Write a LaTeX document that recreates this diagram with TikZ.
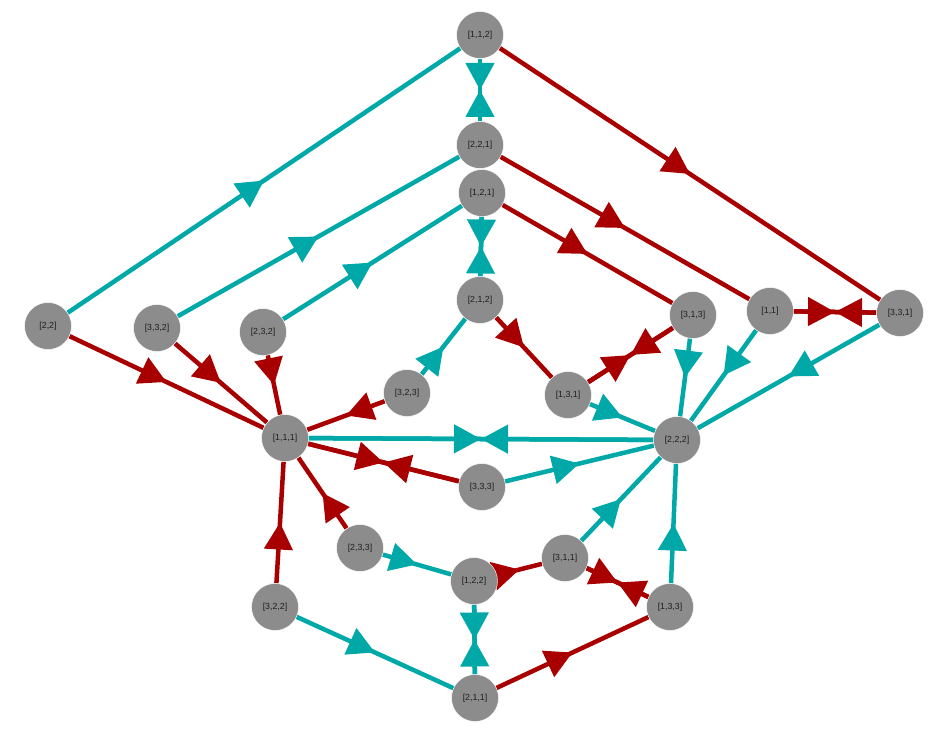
\documentclass[tikz,border=0pt]{standalone}
\usepackage{fontspec}
\setmainfont{Liberation Sans}
\usetikzlibrary{arrows.meta,decorations.markings,backgrounds}
\definecolor{tealc}{RGB}{0,168,168}
\definecolor{redc}{RGB}{168,0,0}
\definecolor{nodeg}{RGB}{140,140,140}
\definecolor{txtc}{RGB}{30,30,30}
\tikzset{
  vtx/.style={circle, fill=nodeg, draw=white, line width=0.4pt, minimum size=47pt, inner sep=0pt,
    font=\fontsize{8.8}{9}\selectfont, text=txtc},
  tedge/.style={draw=tealc, line width=4.5pt, postaction={decorate},
    decoration={markings, mark=at position 0.5 with {\arrow[color=tealc]{Triangle[length=27pt,width=28pt]}}}},
  redge/.style={draw=redc, line width=4.5pt, postaction={decorate},
    decoration={markings, mark=at position 0.5 with {\arrow[color=redc]{Triangle[length=27pt,width=28pt]}}}}
}
\begin{document}
\begin{tikzpicture}[x=1pt,y=-1pt]
\useasboundingbox (0,0) rectangle (949,735);
\node[vtx] (n112) at (480,35) {[1,1,2]};
\node[vtx] (n221) at (480,145) {[2,2,1]};
\node[vtx] (n121) at (482,193) {[1,2,1]};
\node[vtx] (n212) at (480,300) {[2,1,2]};
\node[vtx] (n22) at (48,326) {[2,2]};
\node[vtx] (n332) at (157,328) {[3,3,2]};
\node[vtx] (n232) at (263,332) {[2,3,2]};
\node[vtx] (n313) at (693,315) {[3,1,3]};
\node[vtx] (n11) at (770,311) {[1,1]};
\node[vtx] (n331) at (900,313) {[3,3,1]};
\node[vtx] (n323) at (407,393) {[3,2,3]};
\node[vtx] (n131) at (568,395) {[1,3,1]};
\node[vtx] (n111) at (285,438) {[1,1,1]};
\node[vtx] (n222) at (677,440) {[2,2,2]};
\node[vtx] (n333) at (482,487) {[3,3,3]};
\node[vtx] (n233) at (360,548) {[2,3,3]};
\node[vtx] (n311) at (565,558) {[3,1,1]};
\node[vtx] (n122) at (474,581) {[1,2,2]};
\node[vtx] (n322) at (275,607) {[3,2,2]};
\node[vtx] (n133) at (670,607) {[1,3,3]};
\node[vtx] (n211) at (475,698) {[2,1,1]};
\begin{scope}[on background layer]
% teal edges
\draw[tedge] (n22) -- (n112);
\draw[tedge] (n332) -- (n221);
\draw[tedge] (n232) -- (n121);
\draw[tedge] (n112) -- (n221);
\draw[tedge] (n221) -- (n112);
\draw[tedge] (n121) -- (n212);
\draw[tedge] (n212) -- (n121);
\draw[tedge] (n323) -- (n212);
\draw[tedge] (n313) -- (n222);
\draw[tedge] (n11) -- (n222);
\draw[tedge] (n331) -- (n222);
\draw[tedge] (n131) -- (n222);
\draw[tedge] (n111) -- (n222);
\draw[tedge] (n222) -- (n111);
\draw[tedge] (n333) -- (n222);
\draw[tedge] (n311) -- (n222);
\draw[tedge] (n133) -- (n222);
\draw[tedge] (n233) -- (n122);
\draw[tedge] (n122) -- (n211);
\draw[tedge] (n211) -- (n122);
\draw[tedge] (n322) -- (n211);
% red edges
\draw[redge] (n112) -- (n331);
\draw[redge] (n221) -- (n11);
\draw[redge] (n121) -- (n313);
\draw[redge] (n212) -- (n131);
\draw[redge] (n131) -- (n313);
\draw[redge] (n313) -- (n131);
\draw[redge] (n11) -- (n331);
\draw[redge] (n331) -- (n11);
\draw[redge] (n22) -- (n111);
\draw[redge] (n332) -- (n111);
\draw[redge] (n232) -- (n111);
\draw[redge] (n323) -- (n111);
\draw[redge] (n111) -- (n333);
\draw[redge] (n333) -- (n111);
\draw[redge] (n233) -- (n111);
\draw[redge] (n322) -- (n111);
\draw[redge] (n122) -- (n311);
\draw[redge] (n311) -- (n133);
\draw[redge] (n133) -- (n311);
\draw[redge] (n211) -- (n133);
\end{scope}
\end{tikzpicture}
\end{document}
